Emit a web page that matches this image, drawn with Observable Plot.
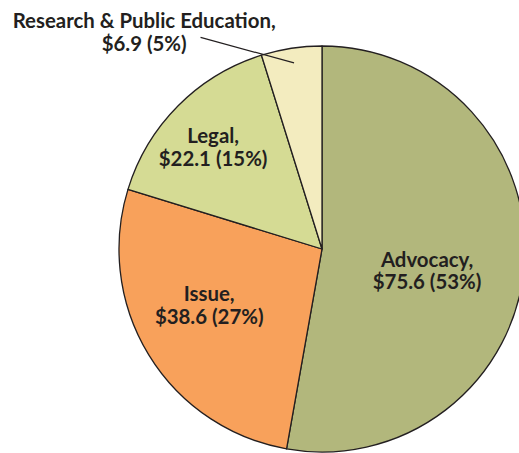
<!DOCTYPE html>
<html>
<head>
<meta charset="utf-8">
<script src="https://cdn.jsdelivr.net/npm/d3@7"></script>
<script src="https://cdn.jsdelivr.net/npm/@observablehq/plot@0.6"></script>
<style>
  html, body { margin: 0; padding: 0; background: #ffffff; }
  #chart svg { display: block; }
</style>
</head>
<body>
<div id="chart"></div>
<script>
// ---- data ----
const categories = ["Advocacy", "Issue", "Legal", "Research & Public Education"];
const values = [75.6, 38.6, 22.1, 6.9];
const percents = [53, 27, 15, 5];

// ---- style / layout ----
const colors = ["#b2b77c", "#f8a15b", "#d5db94", "#f3ecbf"];
const ink = "#231f20";
const W = 519, H = 453;
const CX = 322, CY = 249, R = 203;           // pie centre and radius in pixels
// label placement (angle in degrees clockwise from 12 o'clock, radius as fraction of R)
const labelAngle = [101.6, 243.8, 313.1, 320.6];
const labelRadius = [0.526, 0.622, 0.738, 1.384];
const leaderStart = [330.1, 1.205];          // [angle, radius] for outside label's leader line
const leaderEndRadius = 0.93;
const fontFamily = "Lato, 'Open Sans', sans-serif";
const fontSize = 20.4;

const pie = d3.pie().sort(null).value(d => d.value);
const rows = categories.map((c, i) => ({
  category: c, value: values[i], pct: percents[i], color: colors[i],
  label: `${c},\n$${values[i].toFixed(1)} (${percents[i]}%)`
}));
const arcs = pie(rows);

const rad = a => a * Math.PI / 180;
const labels = rows.map((d, i) => ({
  ...d,
  x: labelRadius[i] * Math.sin(rad(labelAngle[i])),
  y: labelRadius[i] * Math.cos(rad(labelAngle[i]))
}));

const outside = arcs[3];
const midA = (outside.startAngle + outside.endAngle) / 2;
const leader = [{
  x1: leaderStart[1] * Math.sin(rad(leaderStart[0])),
  y1: leaderStart[1] * Math.cos(rad(leaderStart[0])),
  x2: leaderEndRadius * Math.sin(midA),
  y2: leaderEndRadius * Math.cos(midA)
}];

// custom pie mark drawn through the plot's x/y scales
function pieMark(index, scales) {
  const cx = scales.x(0), cy = scales.y(0);
  const r = scales.x(1) - scales.x(0);
  const arc = d3.arc().innerRadius(0).outerRadius(r);
  const g = d3.create("svg:g").attr("transform", `translate(${cx},${cy})`);
  g.selectAll("path").data(arcs).join("path")
    .attr("d", arc)
    .attr("fill", d => d.data.color)
    .attr("stroke", ink)
    .attr("stroke-width", 1.3)
    .attr("stroke-linejoin", "round");
  return g.node();
}

const chart = Plot.plot({
  width: W, height: H, margin: 0,
  style: { background: "#ffffff" },
  x: { domain: [-CX / R, (W - CX) / R], range: [0, W], axis: null },
  y: { domain: [-(H - CY) / R, CY / R], range: [H, 0], axis: null },
  marks: [
    pieMark,
    Plot.link(leader, { x1: "x1", y1: "y1", x2: "x2", y2: "y2", stroke: ink, strokeWidth: 1.2 }),
    Plot.text(labels, {
      x: "x", y: "y", text: "label",
      fontSize, fontWeight: "bold", fontFamily,
      lineHeight: 1.1, fill: ink, textAnchor: "middle"
    })
  ]
});
document.getElementById("chart").appendChild(chart);
</script>
</body>
</html>
